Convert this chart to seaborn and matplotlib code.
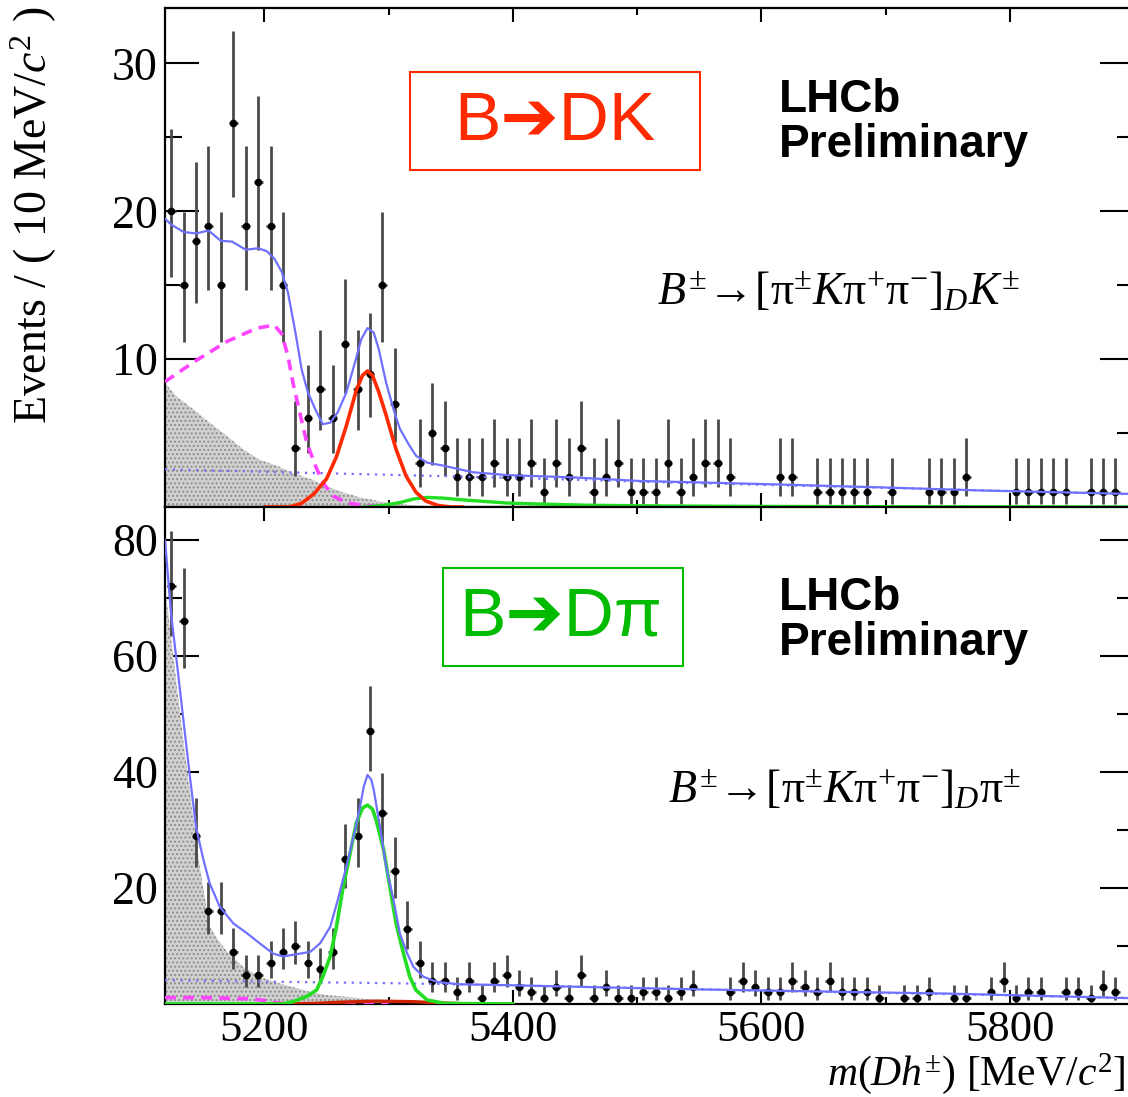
import numpy as np
import pandas as pd
import matplotlib
matplotlib.use('Agg')
import matplotlib.pyplot as plt
import seaborn as sns
from matplotlib.patches import Rectangle
from matplotlib.ticker import FixedLocator

# ---------------- data ----------------
bin_centers = np.arange(5125, 5900, 10)

counts_dk = [20, 15, 18, 19, 15, 26, 19, 22, 19, 15,
             4, 6, 8, 6, 11, 8, 9, 15, 7, 0,
             3, 5, 4, 2, 2, 2, 3, 2, 2, 3,
             1, 3, 2, 4, 1, 2, 3, 1, 1, 1,
             3, 1, 2, 3, 3, 2, 0, 0, 0, 2,
             2, 0, 1, 1, 1, 1, 1, 0, 1, 0,
             0, 1, 1, 1, 2, 0, 0, 0, 1, 1,
             1, 1, 1, 0, 1, 1, 1, 0]

counts_dpi = [72, 66, 29, 16, 16, 9, 5, 5, 7, 9,
              10, 7, 6, 9, 25, 29, 47, 33, 23, 13,
              7, 4, 4, 2, 4, 1, 4, 5, 3, 2,
              1, 3, 1, 5, 1, 3, 1, 1, 2, 2,
              1, 2, 3, 0, 0, 2, 4, 3, 2, 2,
              4, 3, 2, 4, 2, 2, 2, 1, 0, 1,
              1, 2, 0, 1, 1, 0, 2, 4, 1, 2,
              2, 0, 2, 2, 1, 3, 2, 0]

# --- fit components, B -> DK panel ---
dk_total_x = [5120, 5125, 5135, 5145, 5155, 5165, 5174, 5185, 5195, 5202, 5208, 5214,
              5219, 5225, 5230, 5235, 5241, 5247, 5253, 5259, 5266, 5273, 5278, 5283,
              5288, 5292, 5298, 5304, 5309, 5316, 5322, 5331, 5344, 5357, 5368, 5395,
              5449, 5502, 5556, 5615, 5695, 5776, 5900]
dk_total_y = [19.5, 19.1, 18.6, 18.5, 18.7, 18.0, 17.95, 17.4, 17.5, 17.3, 16.8, 15.9,
              14.5, 11.8, 9.3, 7.75, 6.6, 5.6, 5.7, 6.4, 7.75, 9.8, 11.35, 12.1,
              11.8, 10.7, 8.4, 6.6, 5.3, 4.26, 3.47, 3.0, 2.8, 2.55, 2.35, 2.16,
              2.0, 1.76, 1.65, 1.52, 1.33, 1.12, 0.88]

dk_comb_x = [5120, 5200, 5300, 5400, 5500, 5600, 5700, 5800, 5900]
dk_comb_y = [2.55, 2.38, 2.18, 1.97, 1.72, 1.50, 1.30, 1.08, 0.86]

dk_sig_x = [5200, 5220, 5230, 5240, 5250, 5258, 5266, 5274, 5279, 5283, 5287, 5292,
            5298, 5306, 5314, 5322, 5330, 5340, 5350, 5360]
dk_sig_y = [0.0, 0.0, 0.25, 0.9, 1.9, 3.4, 5.5, 7.9, 8.9, 9.2, 8.9, 7.8,
            6.2, 3.9, 2.1, 1.0, 0.4, 0.1, 0.0, 0.0]

dk_part_x = [5120, 5143, 5170, 5194, 5208, 5214, 5219, 5223, 5229, 5234, 5241, 5247,
             5255, 5266, 5280, 5300]
dk_part_y = [8.47, 9.8, 11.2, 12.1, 12.3, 11.7, 10.2, 8.4, 6.2, 4.4, 2.8, 1.67,
             0.76, 0.3, 0.1, 0.0]

dk_low_x = [5120, 5129, 5143, 5156, 5170, 5183, 5196, 5210, 5223, 5237, 5250, 5263,
            5277, 5298, 5320, 5340]
dk_low_y = [8.4, 7.5, 6.6, 5.7, 4.8, 3.9, 3.2, 2.8, 2.3, 1.9, 1.4, 1.0,
            0.65, 0.3, 0.1, 0.0]

dk_misid_x = [5280, 5295, 5309, 5320, 5331, 5344, 5357, 5368, 5395, 5422, 5460, 5520,
              5600, 5700, 5900]
dk_misid_y = [0.0, 0.1, 0.3, 0.54, 0.65, 0.6, 0.5, 0.43, 0.27, 0.2, 0.12, 0.07,
              0.04, 0.02, 0.0]

# --- fit components, B -> Dpi panel ---
dpi_total_x = [5120, 5125, 5130, 5135, 5140, 5145, 5151, 5156, 5164, 5175, 5186, 5196,
               5207, 5215, 5229, 5237, 5245, 5253, 5259, 5266, 5273, 5277, 5280, 5283,
               5286, 5288, 5293, 5298, 5304, 5309, 5315, 5320, 5328, 5339, 5357, 5395,
               5476, 5556, 5623, 5749, 5900]
dpi_total_y = [80, 67, 58, 48.6, 39.3, 30.5, 24.8, 20.8, 16.8, 13.9, 12.2, 10.5,
               8.7, 8.2, 8.7, 9.0, 10.5, 13.3, 17.9, 23.7, 30.0, 34.0, 37.5, 39.5,
               38.7, 37.0, 30.6, 23.7, 17.9, 12.2, 8.7, 6.4, 4.7, 3.8, 3.4, 3.25,
               2.85, 2.5, 2.25, 1.8, 1.0]

dpi_comb_x = [5120, 5200, 5300, 5400, 5500, 5600, 5700, 5800, 5900]
dpi_comb_y = [4.1, 3.85, 3.6, 3.2, 2.75, 2.3, 1.9, 1.5, 1.0]

dpi_sig_x = [5120, 5215, 5223, 5234, 5242, 5247, 5253, 5258, 5263, 5269, 5274, 5279,
             5283, 5287, 5290, 5296, 5301, 5306, 5312, 5317, 5322, 5331, 5345, 5400]
dpi_sig_y = [0.0, 0.0, 0.4, 1.3, 2.4, 4.7, 8.2, 13.3, 19.7, 26.0, 31.2, 33.8,
             34.3, 33.6, 31.7, 26.6, 20.2, 13.9, 8.7, 4.7, 2.4, 0.7, 0.1, 0.0]

dpi_low_x = [5120, 5125, 5130, 5135, 5141, 5148, 5156, 5163, 5170, 5183, 5196, 5210,
             5223, 5237, 5250, 5266, 5288, 5301, 5330]
dpi_low_y = [72, 63, 54, 45, 35, 23.7, 13.3, 11.0, 9.0, 6.4, 4.7, 3.7,
             2.9, 2.1, 1.55, 1.26, 0.7, 0.4, 0.0]

dpi_part_x = [5120, 5150, 5190, 5200, 5210, 5220, 5300]
dpi_part_y = [1.1, 1.1, 0.9, 0.6, 0.2, 0.0, 0.0]

dpi_misid_x = [5200, 5240, 5260, 5290, 5320, 5340, 5360, 5400]
dpi_misid_y = [0.0, 0.1, 0.3, 0.5, 0.4, 0.2, 0.05, 0.0]

x_ticks = [5200, 5400, 5600, 5800]
x_minor = [5300, 5500, 5700]
y_ticks_dk = [10, 20, 30]
y_minor_dk = [5, 15, 25]
y_ticks_dpi = [20, 40, 60, 80]
y_minor_dpi = [10, 30, 50, 70]

# ---------------- style ----------------
sns.set_theme(style='white')
plt.rcParams['font.family'] = ['Liberation Serif', 'DejaVu Serif']
plt.rcParams['text.color'] = 'black'
plt.rcParams['axes.labelcolor'] = 'black'
plt.rcParams['xtick.color'] = 'black'
plt.rcParams['ytick.color'] = 'black'
plt.rcParams['mathtext.fontset'] = 'custom'
plt.rcParams['mathtext.rm'] = 'Liberation Serif'
plt.rcParams['mathtext.it'] = 'Liberation Serif:italic'
plt.rcParams['mathtext.bf'] = 'Liberation Serif:bold'
plt.rcParams['hatch.linewidth'] = 0.9
plt.rcParams['hatch.color'] = '#8a8a8a'

W, H = 1128, 1097
fig = plt.figure(figsize=(W / 100, H / 100), dpi=100)
fig.patch.set_facecolor('white')


def fx(px):
    return px / W


def fy(py):
    return 1 - py / H


ax_top = fig.add_axes([fx(165), fy(507), (1134 - 165) / W, (507 - 8) / H])
ax_bot = fig.add_axes([fx(165), fy(1004), (1134 - 165) / W, (1004 - 507) / H])

BLUE = '#7070ff'
RED = '#ff2a00'
GREEN = '#22dd22'
MAGENTA = '#ff44ff'


def poisson_err(n):
    n = np.asarray(n, dtype=float)
    up = np.sqrt(n + 0.75) + 1.0
    nn = np.maximum(n, 1e-9)
    lo = np.where(n > 0, n - n * (1 - 1 / (9 * nn) - 1 / (3 * np.sqrt(nn))) ** 3, 0)
    return lo, up


def draw_panel(ax, counts, total, comb, sig, sig_color, low, part, misid, misid_color, ylim):
    # grey low-mass background
    ax.fill_between(low[0], 0, low[1], facecolor='#d0d0d0', edgecolor='#8a8a8a',
                    hatch='....', linewidth=0, zorder=1)
    df = pd.DataFrame({'m': bin_centers, 'n': counts})
    df = df[df['n'] > 0]
    lo, up = poisson_err(df['n'].values)
    ax.errorbar(df['m'], df['n'], yerr=[lo, up], xerr=3.5, fmt='o', ms=4.5,
                color='black', ecolor='#4a4a4a', elinewidth=2, capsize=0, zorder=3)
    sns.lineplot(x=comb[0], y=comb[1], ax=ax, color=BLUE, lw=1.6,
                 linestyle=(0, (1, 2.5)), estimator=None, zorder=4)
    sns.lineplot(x=part[0], y=part[1], ax=ax, color=MAGENTA, lw=2.6,
                 linestyle=(0, (3, 2)), estimator=None, zorder=4)
    sns.lineplot(x=misid[0], y=misid[1], ax=ax, color=misid_color, lw=2.4,
                 estimator=None, zorder=4)
    sns.lineplot(x=sig[0], y=sig[1], ax=ax, color=sig_color, lw=2.6,
                 estimator=None, zorder=5)
    sns.lineplot(x=total[0], y=total[1], ax=ax, color=BLUE, lw=1.6,
                 estimator=None, zorder=6)
    ax.set_xlim(5120, 5900)
    ax.set_ylim(*ylim)
    ax.set_xlabel('')
    ax.set_ylabel('')
    for s in ax.spines.values():
        s.set_visible(True)
        s.set_color('black')
        s.set_linewidth(1.6)
    ax.xaxis.set_major_locator(FixedLocator(x_ticks))
    ax.xaxis.set_minor_locator(FixedLocator(x_minor))
    ax.tick_params(which='both', direction='in', top=True, right=True,
                   bottom=True, left=True, colors='black', width=1.5)
    ax.tick_params(axis='y', which='major', length=24.5, pad=5, labelsize=33)
    ax.tick_params(axis='y', which='minor', length=12)
    ax.tick_params(axis='x', which='major', length=10, pad=4, labelsize=32)
    ax.tick_params(axis='x', which='minor', length=5)
    ax.set_facecolor('white')


draw_panel(ax_top, counts_dk, (dk_total_x, dk_total_y), (dk_comb_x, dk_comb_y),
           (dk_sig_x, dk_sig_y), RED, (dk_low_x, dk_low_y), (dk_part_x, dk_part_y),
           (dk_misid_x, dk_misid_y), GREEN, (0, 33.75))
draw_panel(ax_bot, counts_dpi, (dpi_total_x, dpi_total_y), (dpi_comb_x, dpi_comb_y),
           (dpi_sig_x, dpi_sig_y), GREEN, (dpi_low_x, dpi_low_y), (dpi_part_x, dpi_part_y),
           (dpi_misid_x, dpi_misid_y), '#cc2200', (0, 85.7))

ax_top.yaxis.set_major_locator(FixedLocator(y_ticks_dk))
ax_top.yaxis.set_minor_locator(FixedLocator(y_minor_dk))
ax_bot.yaxis.set_major_locator(FixedLocator(y_ticks_dpi))
ax_bot.yaxis.set_minor_locator(FixedLocator(y_minor_dpi))
ax_top.tick_params(axis='x', labelbottom=False)

# ---------------- texts ----------------
fig.text(fx(34), fy(6), r'Events / ( 10 MeV/$c^{2}$ )', rotation=90,
         ha='center', va='top', fontsize=33, color='black')
fig.text(fx(1126), fy(1096), r'$m(Dh^{\pm})$ [MeV/$c^{2}$]', ha='right', va='bottom',
         fontsize=30, color='black')

sans = ['Liberation Sans', 'DejaVu Sans']
# B -> DK label box
fig.patches.append(Rectangle((fx(410), fy(170)), (700 - 410) / W, (170 - 72) / H,
                             transform=fig.transFigure, fill=False, edgecolor=RED,
                             linewidth=1.5))
fig.text(fx(555), fy(122), 'B\u2794DK', ha='center', va='center', fontsize=50,
         color=RED, family=sans)
fig.patches.append(Rectangle((fx(443), fy(666)), (683 - 443) / W, (666 - 568) / H,
                             transform=fig.transFigure, fill=False, edgecolor='#00bb00',
                             linewidth=1.5))
fig.text(fx(561), fy(618), 'B\u2794D\u03c0', ha='center', va='center', fontsize=50,
         color='#00bb00', family=sans)

for ytop in (112, 610):
    fig.text(fx(779), fy(ytop), 'LHCb', ha='left', va='baseline', fontsize=33,
             fontweight='bold', family=sans, color='black')
    fig.text(fx(779), fy(ytop + 45), 'Preliminary', ha='left', va='baseline',
             fontsize=33, fontweight='bold', family=sans, color='black')

fig.text(fx(657), fy(305),
         r'$B^{\pm}\!\rightarrow\![\mathrm{π}^{\pm}K\mathrm{π}^{+}\mathrm{π}^{-}]_{D}K^{\pm}$',
         ha='left', va='baseline', fontsize=33, color='black')
fig.text(fx(668), fy(803),
         r'$B^{\pm}\!\rightarrow\![\mathrm{π}^{\pm}K\mathrm{π}^{+}\mathrm{π}^{-}]_{D}\mathrm{π}^{\pm}$',
         ha='left', va='baseline', fontsize=33, color='black')

fig.savefig('out.png', dpi=100, facecolor='white')
